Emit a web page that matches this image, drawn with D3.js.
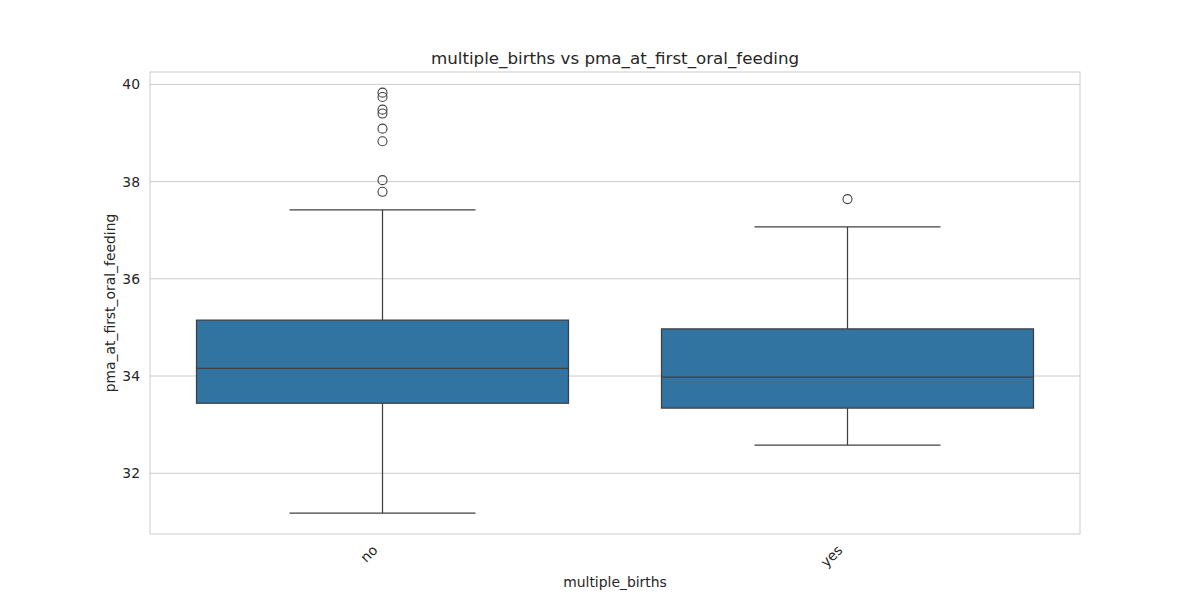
<!DOCTYPE html>
<html>
<head>
<meta charset="utf-8">
<script src="https://cdn.jsdelivr.net/npm/d3@7"></script>
<style>
  body { margin: 0; background: #fff; }
  text { font-family: "DejaVu Sans", sans-serif; fill: #262626; }
</style>
</head>
<body>
<div id="chart"></div>
<script>
// Chart data
const categories = ["no", "yes"];
const whiskerLow = [31.18, 32.58];
const q1 = [33.44, 33.34];
const medians = [34.16, 33.98];
const q3 = [35.15, 34.97];
const whiskerHigh = [37.42, 37.07];
const outliers = [
  [39.83, 39.74, 39.48, 39.40, 39.09, 38.83, 38.03, 37.79],
  [37.64]
];
const yTicks = [32, 34, 36, 38, 40];

const width = 1200, height = 600;
const margin = { top: 72, right: 120, bottom: 66, left: 150 };
const innerW = width - margin.left - margin.right;
const innerH = height - margin.top - margin.bottom;

const svg = d3.select("#chart").append("svg")
    .attr("width", width)
    .attr("height", height);

const g = svg.append("g")
    .attr("transform", `translate(${margin.left},${margin.top})`);

const x = d3.scaleBand()
    .domain(categories)
    .range([0, innerW]);

const y = d3.scaleLinear()
    .domain([30.75, 40.255])
    .range([innerH, 0]);

// grid lines
g.selectAll(".grid")
    .data(yTicks)
    .enter().append("line")
    .attr("x1", 0).attr("x2", innerW)
    .attr("y1", d => y(d)).attr("y2", d => y(d))
    .style("stroke", "#cccccc")
    .style("stroke-width", 1);

// y axis labels
const yAxis = g.append("g").call(d3.axisLeft(y).tickValues(yTicks).tickSize(0).tickPadding(10));
yAxis.select(".domain").remove();
yAxis.selectAll("text").style("font-size", "13.9px").style("fill", "#262626")
    .style("font-family", "DejaVu Sans, sans-serif");

// x axis labels, rotated 45 degrees
const xAxis = g.append("g")
    .attr("transform", `translate(0,${innerH})`)
    .call(d3.axisBottom(x).tickSize(0));
xAxis.select(".domain").remove();
xAxis.selectAll("text")
    .style("font-size", "13.9px").style("fill", "#262626")
    .style("font-family", "DejaVu Sans, sans-serif")
    .style("text-anchor", "end")
    .attr("x", 0).attr("y", 0).attr("dx", 0).attr("dy", 0)
    .attr("transform", "translate(-4,17) rotate(-45)");

// boxes
const lineColor = "#3f3f3f";
const boxW = x.bandwidth() * 0.8;
const capW = boxW / 2;

categories.forEach((c, i) => {
    const cx = x(c) + x.bandwidth() / 2;
    const box = g.append("g");

    // whiskers
    box.append("line")
        .attr("x1", cx).attr("x2", cx)
        .attr("y1", y(whiskerLow[i])).attr("y2", y(q1[i]))
        .style("stroke", lineColor).style("stroke-width", 1.25);
    box.append("line")
        .attr("x1", cx).attr("x2", cx)
        .attr("y1", y(q3[i])).attr("y2", y(whiskerHigh[i]))
        .style("stroke", lineColor).style("stroke-width", 1.25);
    [whiskerLow[i], whiskerHigh[i]].forEach(v => {
        box.append("line")
            .attr("x1", cx - capW / 2).attr("x2", cx + capW / 2)
            .attr("y1", y(v)).attr("y2", y(v))
            .style("stroke", lineColor).style("stroke-width", 1.25);
    });

    box.append("rect")
        .attr("x", cx - boxW / 2)
        .attr("y", y(q3[i]))
        .attr("width", boxW)
        .attr("height", y(q1[i]) - y(q3[i]))
        .style("fill", "#3274a1")
        .style("stroke", lineColor)
        .style("stroke-width", 1.25);

    box.append("line")
        .attr("x1", cx - boxW / 2).attr("x2", cx + boxW / 2)
        .attr("y1", y(medians[i])).attr("y2", y(medians[i]))
        .style("stroke", lineColor).style("stroke-width", 1.25);

    box.selectAll("circle")
        .data(outliers[i])
        .enter().append("circle")
        .attr("cx", cx)
        .attr("cy", d => y(d))
        .attr("r", 4.5)
        .style("fill", "none")
        .style("stroke", lineColor)
        .style("stroke-width", 1.1);
});

// frame
g.append("rect")
    .attr("width", innerW).attr("height", innerH)
    .style("fill", "none")
    .style("stroke", "#cccccc")
    .style("stroke-width", 1);

// title and axis titles
svg.append("text")
    .attr("x", margin.left + innerW / 2)
    .attr("y", 64)
    .attr("text-anchor", "middle")
    .style("font-size", "16.7px")
    .text("multiple_births vs pma_at_first_oral_feeding");

svg.append("text")
    .attr("x", margin.left + innerW / 2)
    .attr("y", 587)
    .attr("text-anchor", "middle")
    .style("font-size", "13.9px")
    .text("multiple_births");

svg.append("text")
    .attr("transform", `translate(115,${margin.top + innerH / 2}) rotate(-90)`)
    .attr("text-anchor", "middle")
    .style("font-size", "13.9px")
    .text("pma_at_first_oral_feeding");
</script>
</body>
</html>
